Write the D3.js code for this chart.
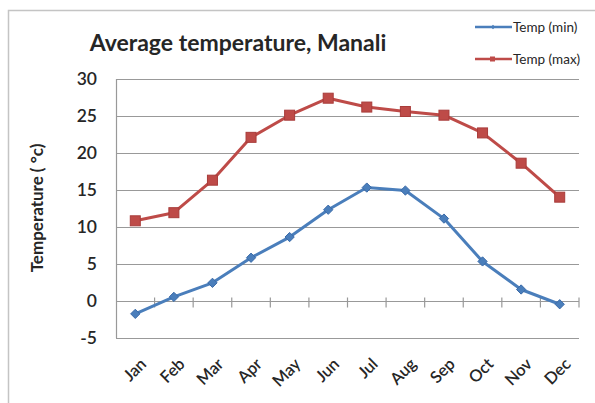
<!DOCTYPE html>
<html>
<head>
<meta charset="utf-8">
<script src="https://cdn.jsdelivr.net/npm/d3@7/dist/d3.min.js"></script>
<style>
  html, body { margin: 0; padding: 0; background: #fff; }
  svg { display: block; }
  text { font-family: Lato, "Open Sans", sans-serif; fill: #262626; }
</style>
</head>
<body>
<svg id="chart" width="595" height="403"></svg>
<script>
const months = ["Jan","Feb","Mar","Apr","May","Jun","Jul","Aug","Sep","Oct","Nov","Dec"];
const tempMin = [-1.8, 0.5, 2.4, 5.8, 8.6, 12.3, 15.3, 14.9, 11.1, 5.3, 1.5, -0.5];
const tempMax = [10.8, 11.9, 16.3, 22.1, 25.1, 27.4, 26.2, 25.6, 25.1, 22.7, 18.6, 14.0];
const yTicks = [-5, 0, 5, 10, 15, 20, 25, 30];
const seriesNames = ["Temp (min)", "Temp (max)"];
const titleText = "Average temperature, Manali";
const yLabel = "Temperature ( °c)";

const svg = d3.select("#chart");
const blue = "#4a7ebb", red = "#be4b48", grid = "#999999";

// outer border
svg.append("rect").attr("x", 8.5).attr("y", 10.5).attr("width", 620).attr("height", 420)
  .attr("fill", "none").attr("stroke", "#c4c4c4").attr("stroke-width", 1.5);

const plot = { left: 116, right: 579, top: 79, bottom: 337.5 };
const x = d3.scaleBand().domain(months).range([plot.left, plot.right]);
const y = d3.scaleLinear().domain([-5, 30]).range([plot.bottom, plot.top]);

// gridlines
svg.append("g").selectAll("line").data(yTicks).join("line")
  .attr("x1", plot.left).attr("x2", plot.right)
  .attr("y1", d => Math.round(y(d)) + 0.5).attr("y2", d => Math.round(y(d)) + 0.5)
  .attr("stroke", grid).attr("stroke-width", 1.2);

// left axis line
svg.append("line").attr("x1", plot.left + 0.5).attr("x2", plot.left + 0.5)
  .attr("y1", plot.top).attr("y2", plot.bottom + 0.5)
  .attr("stroke", grid).attr("stroke-width", 1.2);

// y axis labels
const yAxis = d3.axisLeft(y).tickValues(yTicks).tickSize(0).tickPadding(19).tickFormat(d => String(d));
const gy = svg.append("g").attr("transform", `translate(${plot.left},0)`).call(yAxis);
gy.select(".domain").remove();
gy.selectAll("text").style("font-family", "Lato, sans-serif").style("font-size", "17.5px")
  .style("font-weight", "600").attr("fill", "#3a3a3a");

// x axis at y=0 with tick marks at category boundaries
const y0 = Math.round(y(0)) + 0.5;
const bounds = d3.range(months.length + 1).map(i => plot.left + i * x.step());
svg.append("g").selectAll("line").data(bounds.slice(1)).join("line")
  .attr("x1", d => d).attr("x2", d => d)
  .attr("y1", y0 - 4).attr("y2", y0 + 6)
  .attr("stroke", grid).attr("stroke-width", 1.2);

// x labels rotated
svg.append("g").selectAll("text").data(months).join("text")
  .attr("transform", d => `translate(${x(d) + x.bandwidth() / 2 + 8},${361}) rotate(-45)`)
  .attr("text-anchor", "end").attr("dy", "0.35em")
  .style("font-size", "16.5px").style("font-weight", "600").attr("fill", "#3a3a3a")
  .text(d => d);

// lines
const line = d3.line().x((d, i) => x(months[i]) + x.bandwidth() / 2).y(d => y(d));
svg.append("path").datum(tempMin).attr("d", line).attr("fill", "none")
  .attr("stroke", blue).attr("stroke-width", 3).attr("stroke-linejoin", "round");
svg.append("path").datum(tempMax).attr("d", line).attr("fill", "none")
  .attr("stroke", red).attr("stroke-width", 3).attr("stroke-linejoin", "round");

// markers
const diamond = d3.symbol().type(d3.symbolDiamond2).size(55);
svg.append("g").selectAll("path").data(tempMin).join("path")
  .attr("transform", (d, i) => `translate(${x(months[i]) + x.bandwidth() / 2},${y(d)})`)
  .attr("d", diamond).attr("fill", blue).attr("stroke", "#3a6aa8").attr("stroke-width", 1);
svg.append("g").selectAll("rect").data(tempMax).join("rect")
  .attr("x", (d, i) => x(months[i]) + x.bandwidth() / 2 - 5).attr("y", d => y(d) - 5)
  .attr("width", 10).attr("height", 10).attr("fill", red).attr("stroke", "#a83c3a").attr("stroke-width", 1);

// title
svg.append("text").attr("x", 238).attr("y", 51).attr("text-anchor", "middle")
  .style("font-size", "23px").style("font-weight", "700").attr("fill", "#1a1a1a")
  .text(titleText);

// y label
svg.append("text").attr("transform", "translate(43,208) rotate(-90)")
  .attr("text-anchor", "middle").style("font-size", "17px").style("font-weight", "700")
  .attr("fill", "#1a1a1a").text(yLabel);

// legend
const legend = svg.append("g");
const legY = [27, 59];
const legColors = [blue, red];
seriesNames.forEach((name, i) => {
  legend.append("line").attr("x1", 475).attr("x2", 512).attr("y1", legY[i]).attr("y2", legY[i])
    .attr("stroke", legColors[i]).attr("stroke-width", 2.5);
  if (i === 0) {
    legend.append("path").attr("transform", `translate(493,${legY[i]})`)
      .attr("d", d3.symbol().type(d3.symbolDiamond2).size(12)).attr("fill", blue);
  } else {
    legend.append("rect").attr("x", 490).attr("y", legY[i] - 2.5).attr("width", 5).attr("height", 5).attr("fill", red);
  }
  legend.append("text").attr("x", 513).attr("y", legY[i]).attr("dy", "0.35em")
    .style("font-size", "13.5px").attr("fill", "#333").text(name);
});
</script>
</body>
</html>
